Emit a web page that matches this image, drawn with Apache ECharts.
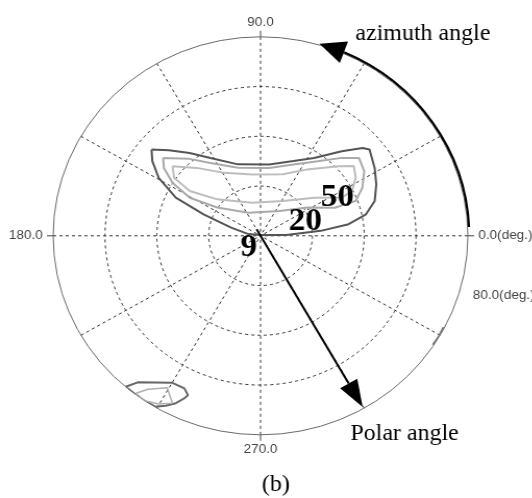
<!DOCTYPE html>
<html>
<head>
<meta charset="utf-8">
<script src="https://cdn.jsdelivr.net/npm/echarts@6/dist/echarts.min.js"></script>
<style>
html,body{margin:0;padding:0;background:#fff;overflow:hidden;}
#wrap{width:532px;height:498px;overflow:hidden;}
#c{width:511.5px;height:498px;transform:scaleX(1.04);transform-origin:0 0;}
</style>
</head>
<body>
<div id="wrap"><div id="c"></div></div>
<script>
// Angle-axis tick labels (azimuth, deg)
const angleTickLabels = {0: '0.0(deg.)', 90: '90.0', 180: '180.0', 270: '270.0'};
const radiusMaxLabel = '80.0(deg.)';

// Contour lines: [polar angle (deg, radius), azimuth (deg)]
const contourOuter = [
  [54.5,140.5],[51.4,144.3],[45.7,149.3],[36.1,154.9],[23.6,158.5],[11.8,163.7],[4.7,171.7],
  [0.3,90],[10.0,1.6],[23.3,4.9],[34.3,7.8],[41.6,12.0],[46.2,17.6],[49.2,24.8],[51.8,31.8],
  [54.5,39.5],[52.9,41.9],[46.2,47.3],[37.5,56.6],[32.6,67.1],[28.9,83.4],[30.0,106.8],
  [36.8,121.7],[43.1,129.4],[49.3,135.8],[54.5,140.5]
];
const contourMiddle = [
  [48.9,140.2],[46.2,143.8],[40.1,147.9],[31.3,150.7],[20.2,145.8],[10.4,116.7],[12.4,53.8],
  [21.3,32.2],[30.8,21.5],[39.3,20.9],[43.8,26.2],[47.7,33.0],[49.2,39.5],[44.3,45.0],
  [37.2,53.7],[31.4,66.1],[27.5,83.1],[28.7,107.6],[35.1,123.4],[41.3,131.5],[48.9,140.2]
];
const contourInner = [
  [44.0,140.5],[40.7,145.0],[32.7,146.6],[22.2,138.7],[13.7,104.0],[16.5,58.2],[25.7,36.5],
  [34.9,26.1],[39.6,27.0],[43.5,32.4],[45.6,37.9],[41.0,43.0],[32.2,56.0],[26.2,70.6],
  [24.9,97.7],[28.9,118.9],[36.8,132.1],[44.0,140.5]
];
const blobOuter = [
  [79.9,229.4],[75.6,231.2],[68.2,240.1],[68.0,244.4],[69.9,246.4],[71.6,245.8],[74.8,244.1],
  [77.5,241.8],[79.8,239.4],[80,236],[80,233],[79.9,229.4]
];
const blobInner = [
  [79.5,232.8],[75.4,234.9],[70.9,239.5],[75.4,243.2],[78.2,239.8],[80,236],[79.5,232.8]
];
const edgeMark = [[79.6,332.5],[79.8,329.5],[79.6,326.6]];

// Annotation arrows (data units)
const azimuthArrow = {r: 80.5, from: 2.5, to: 66.4, tip: 73.6};
const polarArrow = {r0: 3, a0: 120, r1: 79.3, a1: 299.8};

const chart = echarts.init(document.getElementById('c'), null, {renderer: 'canvas', width: 511.5, height: 498});
const dash = [3, 3];
const gridColor = '#333';

function arrowHead(tip, from, len, hw) {
  const dx = tip[0] - from[0], dy = tip[1] - from[1];
  const L = Math.hypot(dx, dy) || 1;
  const ux = dx / L, uy = dy / L;
  const bx = tip[0] - ux * len, by = tip[1] - uy * len;
  return {base: [bx, by], pts: [tip, [bx - uy * hw, by + ux * hw], [bx + uy * hw, by - ux * hw]]};
}

function renderAzimuth(params, api) {
  const cs = params.coordSys;
  const p0 = api.coord([azimuthArrow.r, azimuthArrow.from]);
  const rPx = Math.hypot(p0[0] - cs.cx, p0[1] - cs.cy);
  const tip = api.coord([azimuthArrow.r, azimuthArrow.tip]);
  const base = api.coord([azimuthArrow.r, azimuthArrow.to]);
  const h = arrowHead(tip, base, 25, 11.5);
  return {
    type: 'group',
    children: [
      {type: 'arc', shape: {cx: cs.cx, cy: cs.cy, r: rPx,
        startAngle: -azimuthArrow.to * Math.PI / 180, endAngle: -azimuthArrow.from * Math.PI / 180, clockwise: true},
        style: {stroke: '#000', lineWidth: 2.2, fill: 'none'}},
      {type: 'polygon', shape: {points: h.pts}, style: {fill: '#000'}}
    ]
  };
}

function renderPolarArrow(params, api) {
  const s = api.coord([polarArrow.r0, polarArrow.a0]);
  const t = api.coord([polarArrow.r1, polarArrow.a1]);
  const h = arrowHead(t, s, 27, 9.5);
  return {
    type: 'group',
    children: [
      {type: 'line', shape: {x1: s[0], y1: s[1], x2: h.base[0], y2: h.base[1]}, style: {stroke: '#000', lineWidth: 2}},
      {type: 'polygon', shape: {points: h.pts}, style: {fill: '#000'}}
    ]
  };
}

function contourSeries(data, color, width) {
  return {type: 'line', coordinateSystem: 'polar', data: data, symbol: 'none', smooth: false,
    lineStyle: {color: color, width: width}, silent: true, z: 3};
}

const serifFont = '"Liberation Serif", "Times New Roman", serif';
const option = {
  backgroundColor: '#fff',
  animation: false,
  polar: {center: [250, 235.8], radius: 199},
  angleAxis: {
    type: 'value', min: 0, max: 360, interval: 90, startAngle: 0, clockwise: false,
    axisLine: {show: true, lineStyle: {color: '#6a6a6a', width: 1}},
    axisTick: {show: true, length: 6, lineStyle: {color: '#444', width: 1}},
    axisLabel: {
      margin: 8, padding: [0, 2, 0, 2], color: '#444', fontSize: 13, fontFamily: 'Liberation Sans',
      formatter: function (v) { return angleTickLabels[v] !== undefined ? angleTickLabels[v] : ''; }
    },
    splitLine: {show: true, lineStyle: {color: gridColor, type: dash, width: 1}},
    minorTick: {show: false, splitNumber: 3},
    minorSplitLine: {show: true, lineStyle: {color: gridColor, type: dash, width: 1}}
  },
  radiusAxis: {
    type: 'value', min: 0, max: 80, interval: 20,
    axisLine: {show: false}, axisTick: {show: false}, axisLabel: {show: false},
    splitLine: {show: true, lineStyle: {color: ['rgba(0,0,0,0)', gridColor, gridColor, gridColor, 'rgba(0,0,0,0)'], type: dash, width: 1}}
  },
  series: [
    contourSeries(contourOuter, '#555', 2),
    contourSeries(contourMiddle, '#aaa', 2),
    contourSeries(contourInner, '#bdbdbd', 2),
    contourSeries(blobOuter, '#666', 2),
    contourSeries(blobInner, '#b0b0b0', 1.5),
    contourSeries(edgeMark, '#777', 2),
    {type: 'custom', coordinateSystem: 'polar', data: [[0, 0]], renderItem: renderAzimuth, silent: true, z: 5},
    {type: 'custom', coordinateSystem: 'polar', data: [[0, 0]], renderItem: renderPolarArrow, silent: true, z: 5}
  ],
  graphic: [
    {type: 'text', x: 453.8, y: 295, style: {text: radiusMaxLabel, fill: '#444', font: '13px "Liberation Sans"', verticalAlign: 'middle'}},
    {type: 'text', x: 341, y: 34.2, style: {text: 'azimuth angle', fill: '#000', font: '23px ' + serifFont, verticalAlign: 'middle'}},
    {type: 'text', x: 336.2, y: 434, style: {text: 'Polar angle', fill: '#000', font: '23px ' + serifFont, verticalAlign: 'middle'}},
    {type: 'text', x: 264.7, y: 485, style: {text: '(b)', fill: '#000', font: '23px ' + serifFont, align: 'center', verticalAlign: 'middle'}},
    {type: 'text', x: 307.7, y: 197.5, z: 10, style: {text: '50', fill: '#000', font: 'bold 32px ' + serifFont, verticalAlign: 'middle'}},
    {type: 'text', x: 276.9, y: 221.5, z: 10, style: {text: '20', fill: '#000', font: 'bold 32px ' + serifFont, verticalAlign: 'middle'}},
    {type: 'text', x: 230.8, y: 248, z: 10, style: {text: '9', fill: '#000', font: 'bold 32px ' + serifFont, verticalAlign: 'middle'}}
  ]
};
chart.setOption(option);
</script>
</body>
</html>
